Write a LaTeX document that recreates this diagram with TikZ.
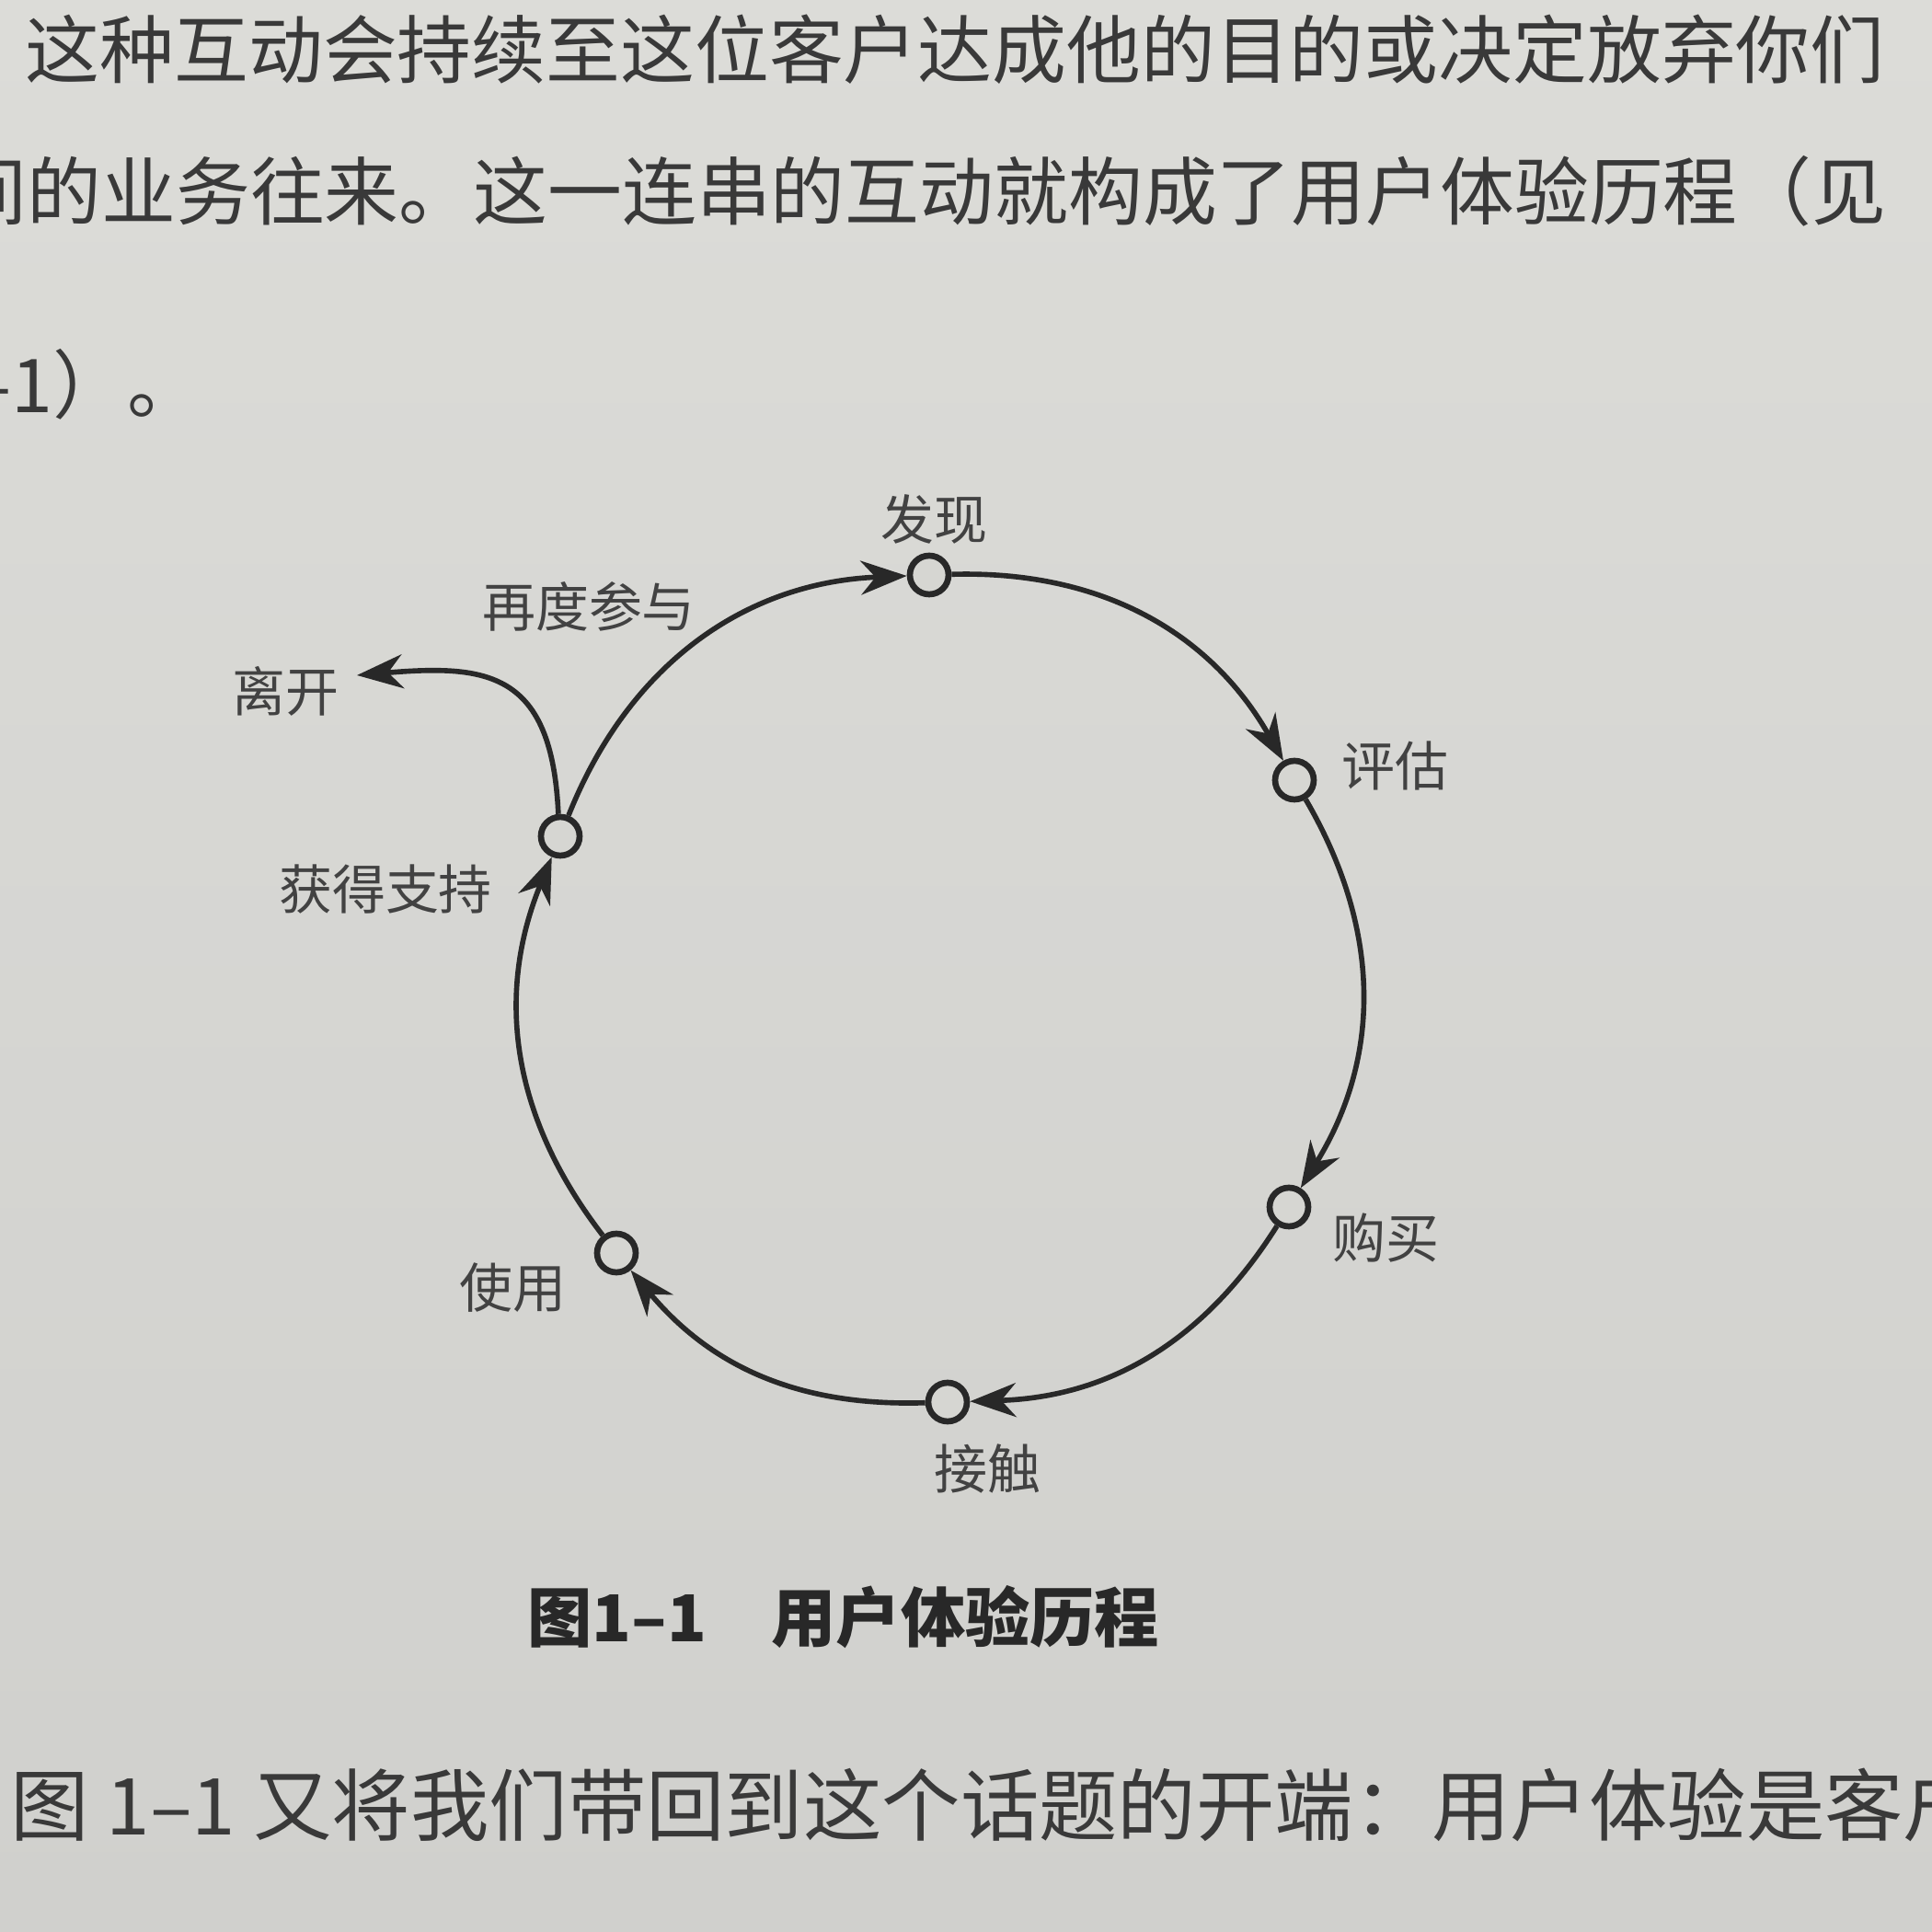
\documentclass[tikz,border=0pt]{standalone}
\usepackage{fontspec}
\newfontfamily\cjk{Noto Sans CJK SC}
\usetikzlibrary{arrows.meta}
\definecolor{paper}{RGB}{214,214,210}
\definecolor{paperTop}{RGB}{220,220,216}
\definecolor{paperLow}{RGB}{208,208,205}
\definecolor{ink}{RGB}{40,40,40}
\tikzset{
  stage/.style={circle, draw=ink, fill=paper, line width=1.9pt, minimum size=0.42cm, inner sep=0pt},
  tag/.style={text=ink!85!paper, font=\cjk\fontsize{16.5}{18}\selectfont, inner sep=0pt},
  flow/.style={draw=ink, line width=1.6pt, -{Stealth[length=5mm, width=3.7mm, inset=1.6mm]}},
  body/.style={text=ink!90!paper, font=\cjk\fontsize{23}{26}\selectfont, inner sep=0pt},
}

\begin{document}
\begin{tikzpicture}
		%%%%% START %%%%%
		
		\useasboundingbox (0, 0) rectangle (21, 21);
		\shade[top color=paperTop, bottom color=paperLow] (0, 0) rectangle (21, 21);
		\clip (0, 0) rectangle (21, 21);
		
		% running text above
		\node[body, anchor=west] (lineA) at (0.27, 20.46) {这种互动会持续至这位客户达成他的目的或决定放弃你们};
		\node[body, anchor=west] (lineB) at (-0.52, 18.92) {间的业务往来。这一连串的互动就构成了用户体验历程（见};
		\node[body, anchor=east] (lineC) at (2.20, 16.82) {图1–1）。};
		
		% stages on the loop
		\node[stage] (discover) at (10.10, 14.75) {};
		\node[stage] (evaluate) at (14.07, 12.52) {};
		\node[stage] (buy) at (14.01, 7.88) {};
		\node[stage] (contact) at (10.30, 5.76) {};
		\node[stage] (use) at (6.70, 7.38) {};
		\node[stage] (support) at (6.09, 11.91) {};
		
		\node[tag] (discoverT) at (10.15, 15.36) {发现};
		\node[tag] (evaluateT) at (15.16, 12.68) {评估};
		\node[tag] (buyT) at (15.06, 7.54) {购买};
		\node[tag] (contactT) at (10.73, 5.04) {接触};
		\node[tag] (useT) at (5.57, 7.00) {使用};
		\node[tag] (supportT) at (4.19, 11.33) {获得支持};
		\node[tag] (againT) at (6.40, 14.41) {再度参与};
		\node[tag] (leaveT) at (3.10, 13.49) {离开};
		\coordinate (leaveTip) at (3.88, 13.66);
		
		\draw[flow] (discover) to[bend left=31] (evaluate);
		\draw[flow] (evaluate) to[bend left=31] (buy);
		\draw[flow] (buy) to[bend left=28] (contact);
		\draw[flow] (contact) to[bend left=26] (use);
		\draw[flow] (use) to[bend left=30] (support);
		\draw[flow] (support) to[bend left=33] (discover);
		\draw[flow] (support.95) .. controls (6.0, 13.7) and (5.3, 13.78) .. (leaveTip);
		
		% caption and text below
		\node[text=ink, font=\cjk\bfseries\fontsize{20}{22}\selectfont, inner sep=0pt, anchor=west] (caption) at (5.73, 3.42) {图1–1　用户体验历程};
		\node[body, font=\cjk\fontsize{24.3}{27}\selectfont, anchor=east] (lineD) at (21.55, 1.38) {图 1–1 又将我们带回到这个话题的开端：用户体验是客户};
		
		%%%%% END %%%%%
\end{tikzpicture}
\end{document}
